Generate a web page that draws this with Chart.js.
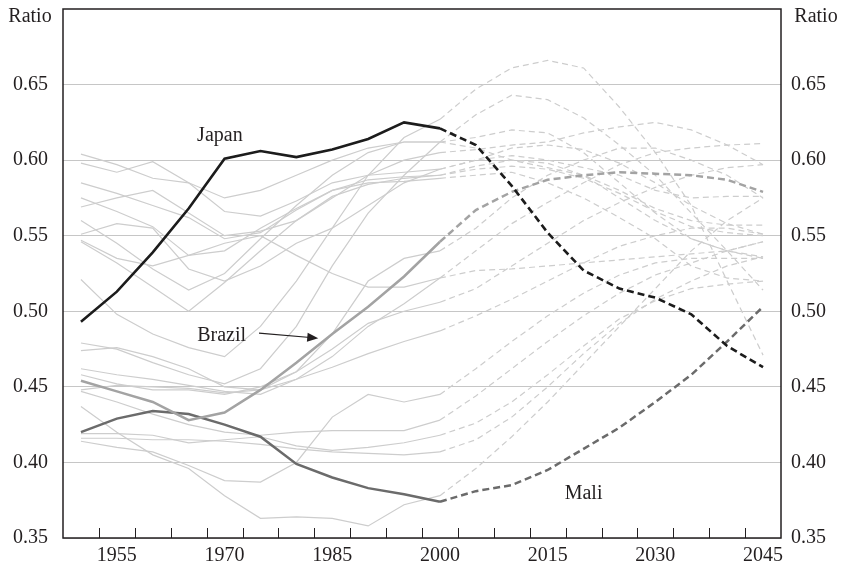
<!DOCTYPE html>
<html>
<head>
<meta charset="utf-8">
<script src="https://cdn.jsdelivr.net/npm/chart.js@4.4.1/dist/chart.umd.min.js"></script>
<style>
    html, body { margin: 0; padding: 0; background: #fff; }
</style>
</head>
<body>
<canvas id="chart" width="841" height="568"></canvas>
<script>
// x categories, one point every 5 years
const years = [1950, 1955, 1960, 1965, 1970, 1975, 1980, 1985, 1990, 1995,
               2000, 2005, 2010, 2015, 2020, 2025, 2030, 2035, 2040, 2045];
const shownYears = [1955, 1970, 1985, 2000, 2015, 2030, 2045];
const yTicks = [0.35, 0.40, 0.45, 0.50, 0.55, 0.60, 0.65];
const projectionStart = 2000; // solid before, dashed after

const japan = [0.493, 0.513, 0.539, 0.568, 0.601, 0.606, 0.602, 0.607, 0.614, 0.625,
               0.621, 0.610, 0.583, 0.552, 0.527, 0.515, 0.509, 0.498, 0.477, 0.463];
const brazil = [0.454, 0.447, 0.440, 0.428, 0.433, 0.448, 0.466, 0.485, 0.503, 0.523,
                0.546, 0.567, 0.579, 0.587, 0.590, 0.592, 0.591, 0.590, 0.587, 0.579];
const mali = [0.420, 0.429, 0.434, 0.432, 0.425, 0.417, 0.399, 0.390, 0.383, 0.379,
              0.374, 0.381, 0.385, 0.395, 0.409, 0.423, 0.440, 0.458, 0.480, 0.503];

// the other countries, drawn in light grey
const others = [
    [0.604, 0.597, 0.588, 0.585, 0.575, 0.580, 0.590, 0.600, 0.608, 0.612, 0.612, 0.615, 0.620, 0.618, 0.605, 0.585, 0.565, 0.548, 0.540, 0.536],
    [0.598, 0.592, 0.599, 0.585, 0.566, 0.563, 0.573, 0.585, 0.590, 0.592, 0.594, 0.600, 0.608, 0.610, 0.607, 0.598, 0.585, 0.570, 0.558, 0.551],
    [0.585, 0.578, 0.570, 0.562, 0.548, 0.552, 0.567, 0.580, 0.587, 0.589, 0.590, 0.596, 0.600, 0.598, 0.590, 0.575, 0.560, 0.548, 0.540, 0.535],
    [0.575, 0.566, 0.556, 0.537, 0.540, 0.555, 0.568, 0.580, 0.585, 0.586, 0.588, 0.590, 0.592, 0.585, 0.575, 0.562, 0.548, 0.530, 0.522, 0.520],
    [0.569, 0.575, 0.580, 0.565, 0.550, 0.553, 0.560, 0.575, 0.590, 0.600, 0.605, 0.607, 0.610, 0.612, 0.618, 0.622, 0.625, 0.620, 0.610, 0.597],
    [0.560, 0.545, 0.528, 0.514, 0.525, 0.548, 0.570, 0.590, 0.605, 0.612, 0.612, 0.608, 0.600, 0.595, 0.590, 0.580, 0.568, 0.560, 0.557, 0.557],
    [0.551, 0.558, 0.555, 0.528, 0.520, 0.530, 0.545, 0.555, 0.570, 0.585, 0.594, 0.600, 0.603, 0.600, 0.595, 0.590, 0.580, 0.575, 0.576, 0.576],
    [0.547, 0.535, 0.530, 0.537, 0.545, 0.550, 0.537, 0.525, 0.516, 0.516, 0.522, 0.527, 0.528, 0.530, 0.532, 0.534, 0.536, 0.538, 0.540, 0.546],
    [0.546, 0.532, 0.516, 0.500, 0.519, 0.540, 0.560, 0.576, 0.584, 0.588, 0.590, 0.594, 0.596, 0.594, 0.588, 0.578, 0.566, 0.556, 0.552, 0.550],
    [0.521, 0.498, 0.485, 0.476, 0.470, 0.490, 0.520, 0.555, 0.590, 0.615, 0.627, 0.647, 0.661, 0.666, 0.661, 0.635, 0.605, 0.570, 0.520, 0.471],
    [0.479, 0.475, 0.466, 0.458, 0.452, 0.462, 0.490, 0.530, 0.565, 0.590, 0.612, 0.630, 0.643, 0.640, 0.628, 0.610, 0.590, 0.565, 0.540, 0.514],
    [0.474, 0.476, 0.470, 0.462, 0.450, 0.448, 0.460, 0.485, 0.520, 0.535, 0.540, 0.555, 0.575, 0.590, 0.600, 0.608, 0.608, 0.600, 0.590, 0.575],
    [0.462, 0.458, 0.455, 0.451, 0.447, 0.445, 0.455, 0.470, 0.490, 0.505, 0.522, 0.540, 0.558, 0.572, 0.585, 0.597, 0.605, 0.608, 0.610, 0.611],
    [0.458, 0.452, 0.448, 0.448, 0.445, 0.450, 0.460, 0.475, 0.492, 0.500, 0.506, 0.515, 0.530, 0.545, 0.560, 0.572, 0.582, 0.590, 0.595, 0.597],
    [0.448, 0.451, 0.450, 0.449, 0.446, 0.448, 0.455, 0.463, 0.472, 0.480, 0.487, 0.497, 0.508, 0.520, 0.532, 0.543, 0.550, 0.555, 0.555, 0.551],
    [0.437, 0.420, 0.405, 0.396, 0.378, 0.363, 0.364, 0.363, 0.358, 0.372, 0.378, 0.396, 0.417, 0.440, 0.465, 0.490, 0.515, 0.540, 0.560, 0.575],
    [0.414, 0.410, 0.407, 0.398, 0.388, 0.387, 0.400, 0.430, 0.445, 0.440, 0.445, 0.462, 0.480, 0.497, 0.512, 0.524, 0.532, 0.535, 0.535, 0.535],
    [0.447, 0.440, 0.432, 0.425, 0.420, 0.418, 0.420, 0.421, 0.421, 0.421, 0.428, 0.444, 0.462, 0.480, 0.497, 0.512, 0.524, 0.532, 0.540, 0.546],
    [0.419, 0.419, 0.418, 0.413, 0.415, 0.417, 0.411, 0.408, 0.410, 0.413, 0.418, 0.426, 0.440, 0.458, 0.477, 0.495, 0.507, 0.515, 0.518, 0.520],
    [0.416, 0.416, 0.415, 0.415, 0.414, 0.412, 0.409, 0.407, 0.406, 0.405, 0.407, 0.415, 0.430, 0.450, 0.472, 0.492, 0.508, 0.520, 0.530, 0.536]
];

const splitIdx = years.indexOf(projectionStart);
const serif = '"Liberation Serif", "DejaVu Serif", serif';
const textColor = '#231f20';

const makeSet = (data, color, width, dash, order) => ({
    data,
    borderColor: color,
    borderWidth: width,
    pointRadius: 0,
    tension: 0,
    fill: false,
    order,
    segment: {
        borderDash: ctx => ctx.p0DataIndex >= splitIdx ? dash : undefined
    }
});

const datasets = others.map(d => makeSet(d, '#cdcdcd', 1.2, [6, 4], 2));
datasets.push(makeSet(brazil, '#a3a3a3', 2.5, [7, 4], 1));
datasets.push(makeSet(mali, '#6b6b6b', 2.5, [7, 4], 1));
datasets.push(makeSet(japan, '#1c1c1c', 2.6, [7, 4], 0));

// frame, inner tick marks, country labels and arrow
const decor = {
    id: 'decor',
    afterDatasetsDraw(chart) {
        const { ctx, chartArea: a, scales: { x, y } } = chart;
        ctx.save();

        const half = (x.getPixelForValue(1) - x.getPixelForValue(0)) / 2;
        ctx.strokeStyle = '#231f20';
        ctx.lineWidth = 1;
        for (let i = 1; i < years.length; i++) {
            const px = Math.round(x.getPixelForValue(i) - half) + 0.5;
            ctx.beginPath();
            ctx.moveTo(px, a.bottom);
            ctx.lineTo(px, a.bottom - 10);
            ctx.stroke();
        }

        ctx.lineWidth = 1.5;
        ctx.strokeRect(a.left, a.top, a.right - a.left, a.bottom - a.top);

        ctx.font = '20px ' + serif;
        ctx.fillStyle = textColor;
        ctx.textBaseline = 'middle';
        ctx.textAlign = 'center';
        ctx.fillText('Japan', x.getPixelForValue(3.87), y.getPixelForValue(0.616));
        ctx.fillText('Brazil', x.getPixelForValue(3.92), y.getPixelForValue(0.484));
        ctx.fillText('Mali', x.getPixelForValue(14.0), y.getPixelForValue(0.379));

        // arrow to Brazil
        const x0 = x.getPixelForValue(4.96), y0 = y.getPixelForValue(0.4855);
        const x1 = x.getPixelForValue(6.61), y1 = y.getPixelForValue(0.4822);
        const ang = Math.atan2(y1 - y0, x1 - x0);
        ctx.lineWidth = 1.2;
        ctx.beginPath();
        ctx.moveTo(x0, y0);
        ctx.lineTo(x1 - 8 * Math.cos(ang), y1 - 8 * Math.sin(ang));
        ctx.stroke();
        ctx.beginPath();
        ctx.moveTo(x1, y1);
        ctx.lineTo(x1 - 11 * Math.cos(ang) + 4.5 * Math.sin(ang), y1 - 11 * Math.sin(ang) - 4.5 * Math.cos(ang));
        ctx.lineTo(x1 - 11 * Math.cos(ang) - 4.5 * Math.sin(ang), y1 - 11 * Math.sin(ang) + 4.5 * Math.cos(ang));
        ctx.closePath();
        ctx.fill();

        // axis titles
        ctx.fillText('Ratio', a.left - 33, 17);
        ctx.fillText('Ratio', a.right + 35, 17);
        ctx.restore();
    }
};

const yTickCfg = (padding) => ({
    color: textColor,
    font: { family: serif, size: 20 },
    padding,
    callback: v => yTicks.includes(+v.toFixed(2)) ? v.toFixed(2) : ''
});

const fitY = (w) => s => {
    s.width = w;
    s.paddingTop = 0;
    s.paddingBottom = 0;
};

new Chart(document.getElementById('chart'), {
    type: 'line',
    data: { labels: years, datasets },
    plugins: [decor],
    options: {
        responsive: false,
        animation: false,
        layout: { padding: { top: 9, left: 0, right: 0, bottom: 0 } },
        plugins: { legend: { display: false }, tooltip: { enabled: false } },
        scales: {
            x: {
                type: 'category',
                offset: true,
                grid: { display: false, drawTicks: false },
                border: { display: false },
                afterFit: s => { s.height = 30; s.paddingLeft = 0; s.paddingRight = 0; },
                ticks: {
                    autoSkip: false,
                    maxRotation: 0,
                    padding: 6,
                    color: textColor,
                    font: { family: serif, size: 20 },
                    callback: (v, i) => shownYears.includes(years[i]) ? String(years[i]) : ''
                }
            },
            y: {
                position: 'left',
                min: 0.35,
                max: 0.70,
                afterBuildTicks: s => { s.ticks = yTicks.map(v => ({ value: v })); },
                afterFit: fitY(63),
                grid: { color: '#c6c6c6', lineWidth: 1, drawTicks: false },
                border: { display: false },
                ticks: yTickCfg(15)
            },
            y2: {
                position: 'right',
                min: 0.35,
                max: 0.70,
                afterBuildTicks: s => { s.ticks = yTicks.map(v => ({ value: v })); },
                afterFit: fitY(60),
                grid: { display: false, drawTicks: false },
                border: { display: false },
                ticks: yTickCfg(10)
            }
        }
    }
});
</script>
</body>
</html>
